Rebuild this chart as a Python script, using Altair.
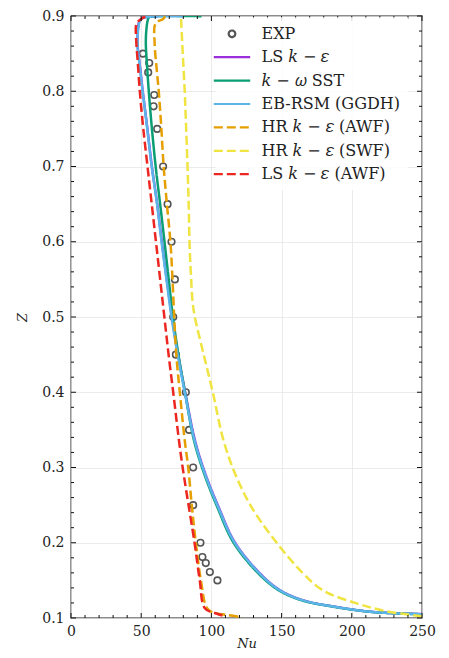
import altair as alt
import pandas as pd

W, H = 351, 602

# ---------------- data ----------------
exp_nu = [51.2, 55.7, 55.0, 59.3, 58.8, 61.4, 65.6, 68.8, 71.6, 74.0, 72.8,
          74.7, 81.8, 84.1, 87.0, 87.0, 92.2, 93.6, 96.0, 98.9, 104.3]
exp_z = [0.85, 0.8375, 0.825, 0.795, 0.78, 0.75, 0.70, 0.65, 0.60, 0.55, 0.50,
         0.45, 0.40, 0.35, 0.30, 0.25, 0.20, 0.181, 0.173, 0.161, 0.15]

ls_z = [0.8995, 0.899, 0.897, 0.893, 0.885, 0.863, 0.83, 0.80, 0.755, 0.70, 0.65, 0.60, 0.55,
        0.50, 0.45, 0.40, 0.336, 0.292, 0.2475, 0.20, 0.159, 0.137, 0.1235, 0.1146, 0.108, 0.1052]
ls_nu = [62, 55, 50.5, 48.7, 47.8, 47.4, 49.3, 51.1, 54.1, 57.6, 61.4, 64.7, 68.2,
         71.9, 76.3, 81.3, 88.3, 95.6, 105.1, 116.9, 134.7, 148.9, 165.5, 189.3, 215.3, 250]

sst_z = [0.8997, 0.8995, 0.898, 0.893, 0.88, 0.863, 0.83, 0.80, 0.755, 0.70, 0.65, 0.60, 0.55,
         0.50, 0.45, 0.40, 0.336, 0.292, 0.2475, 0.20, 0.159, 0.137, 0.1235, 0.1146, 0.108, 0.105]
sst_nu = [93, 58, 55.5, 54.5, 53.6, 53.3, 54.3, 55.4, 57.4, 60.3, 63.5, 66.6, 69.6,
          72.6, 76.5, 81.2, 87.6, 94.8, 104.2, 115.8, 133.6, 147.8, 164.4, 188.2, 214.3, 250]

rsm_z = [0.8995, 0.899, 0.897, 0.893, 0.885, 0.863, 0.83, 0.80, 0.755, 0.70, 0.65, 0.60, 0.55,
         0.50, 0.45, 0.40, 0.336, 0.292, 0.2475, 0.20, 0.159, 0.137, 0.1235, 0.1146, 0.108, 0.105]
rsm_nu = [80, 56, 51, 49, 48, 47.4, 49.2, 51, 54, 57.5, 61.3, 64.5, 68,
          71.6, 76, 81, 88, 95.3, 104.8, 116.6, 134.4, 148.6, 165.2, 189, 215, 250]

hrawf_z = [0.8995, 0.896, 0.89, 0.863, 0.83, 0.80, 0.755, 0.70, 0.65, 0.60, 0.55, 0.50,
           0.45, 0.40, 0.336, 0.30, 0.25, 0.20, 0.15, 0.114, 0.108, 0.104, 0.101]
hrawf_nu = [67, 65.6, 60.2, 59.6, 61, 62.5, 64.2, 66, 68.3, 70.8, 72.3, 73.5,
            75, 77.5, 81, 83.5, 86, 88.9, 92.5, 96.5, 100, 111, 122]

hrswf_z = [0.896, 0.85, 0.80, 0.761, 0.70, 0.65, 0.588, 0.55, 0.52, 0.50, 0.45,
           0.40, 0.336, 0.2895, 0.247, 0.20, 0.16, 0.137, 0.1195, 0.109, 0.1024]
hrswf_nu = [78.4, 79.6, 81, 81.8, 83, 83.8, 84.6, 85.6, 86.6, 88.2, 94.5,
            101, 108.6, 117.4, 128.7, 146.5, 165, 179.2, 203.4, 224.7, 250]

lsawf_z = [0.899, 0.897, 0.89, 0.87, 0.84, 0.80, 0.75, 0.70, 0.65, 0.60, 0.55, 0.50,
           0.45, 0.40, 0.32, 0.27, 0.20, 0.15, 0.113, 0.106, 0.102]
lsawf_nu = [53, 50.7, 46.7, 46.4, 47.5, 49, 51.5, 54.5, 57.5, 60.5, 63.5, 66.5,
            69.5, 72.8, 78, 82, 88, 91.7, 95.3, 103.6, 110.5]

series_names = ["EXP", "LS 𝑘 − 𝜀", "𝑘 − 𝜔 SST", "EB-RSM (GGDH)", "HR 𝑘 − 𝜀 (AWF)",
                "HR 𝑘 − 𝜀 (SWF)", "LS 𝑘 − 𝜀 (AWF)"]
series_colors = ["#555555", "#9b2fdc", "#0b9e74", "#5bb5e8", "#e69f00", "#f0e442", "#ec2620"]
series_dashes = [[1, 0], [1, 0], [1, 0], [1, 0], [9, 4], [9, 4], [9, 4]]
line_data = [(ls_nu, ls_z), (sst_nu, sst_z), (rsm_nu, rsm_z),
             (hrawf_nu, hrawf_z), (hrswf_nu, hrswf_z), (lsawf_nu, lsawf_z)]

x_major = [0, 50, 100, 150, 200, 250]
x_minor = [v for v in range(10, 250, 10) if v % 50 != 0]
y_major = [0.1, 0.2, 0.3, 0.4, 0.5, 0.6, 0.7, 0.8, 0.9]
y_minor = [round(0.1 + 0.02 * i, 2) for i in range(1, 40) if i % 5 != 0]

# symbol shapes (unit square paths, scaled by sqrt(size)/2)
CIRCLE = "M0.47,0A0.47,0.47 0 1,1 -0.47,0A0.47,0.47 0 1,1 0.47,0Z"
HLINE = "M-2.6,0L2.6,0"
series_shapes = [CIRCLE] + [HLINE] * 6

# ---------------- tables ----------------
rows = []
for name, (nus, zs) in zip(series_names[1:], line_data):
    for i, (n, z) in enumerate(zip(nus, zs)):
        rows.append({"series": name, "idx": i, "Nu": n, "Z": z})
lines_df = pd.DataFrame(rows)
exp_df = pd.DataFrame({"series": series_names[0], "Nu": exp_nu, "Z": exp_z})

FONT = "DejaVu Serif"
x_scale = alt.Scale(domain=[0, 250], nice=False, zero=False)
y_scale = alt.Scale(domain=[0.1, 0.9], nice=False, zero=False)

x_axis = alt.Axis(values=x_major, grid=True, ticks=False, domain=False, labelPadding=6,
                  title="Nu", titleFontStyle="italic", titleFontWeight="normal",
                  titleFontSize=13, titleY=29, titleBaseline="alphabetic",
                  labelFlush=False)
y_axis = alt.Axis(values=y_major, format=".1f", grid=True, ticks=False, domain=False,
                  labelPadding=7, title="Z", titleFontStyle="italic",
                  titleFontWeight="normal", titleFontSize=13, titlePadding=12,
                  labelFlush=False)

legend = alt.Legend(title=None, orient="none", legendX=144.5, legendY=1.3,
                    symbolSize=196, symbolStrokeWidth=2.2, symbolFillColor="transparent",
                    labelOffset=21, rowPadding=6.4, padding=8)

color_enc = alt.Color("series:N",
                      scale=alt.Scale(domain=series_names, range=series_colors),
                      legend=legend)


def X(field):
    return alt.X(field, scale=x_scale, axis=x_axis)


def Y(field):
    return alt.Y(field, scale=y_scale, axis=y_axis)


points = alt.Chart(exp_df).mark_point(filled=False, strokeWidth=1.6, size=196,
                                      opacity=1).encode(
    x=X("Nu:Q"),
    y=Y("Z:Q"),
    color=color_enc,
    shape=alt.Shape("series:N",
                    scale=alt.Scale(domain=series_names, range=series_shapes),
                    legend=legend),
)

lines = alt.Chart(lines_df).mark_line(strokeWidth=2.5, clip=True,
                                      interpolate="catmull-rom").encode(
    x=X("Nu:Q"),
    y=Y("Z:Q"),
    color=color_enc,
    strokeDash=alt.StrokeDash("series:N",
                              scale=alt.Scale(domain=series_names, range=series_dashes),
                              legend=legend),
    detail="series:N",
    order=alt.Order("idx:Q"),
)


def xticks(vals, length, top):
    df = pd.DataFrame({"v": vals})
    base = alt.Chart(df).mark_rule(color="#111111", strokeWidth=1)
    if top:
        return base.encode(x=X("v:Q"), y=alt.value(0), y2=alt.value(length))
    return base.encode(x=X("v:Q"), y=alt.value(H), y2=alt.value(H - length))


def yticks(vals, length, right):
    df = pd.DataFrame({"v": vals})
    base = alt.Chart(df).mark_rule(color="#111111", strokeWidth=1)
    if right:
        return base.encode(y=Y("v:Q"), x=alt.value(W), x2=alt.value(W - length))
    return base.encode(y=Y("v:Q"), x=alt.value(0), x2=alt.value(length))


tick_layers = [xticks(x_major, 5, False), xticks(x_minor, 3, False),
               xticks(x_major, 5, True), xticks(x_minor, 3, True),
               yticks(y_major, 5, False), yticks(y_minor, 3, False),
               yticks(y_major, 5, True), yticks(y_minor, 3, True)]

chart = alt.layer(points, lines, *tick_layers).properties(
    width=W, height=H,
    autosize=alt.AutoSizeParams(type="none"),
    padding={"left": 63, "top": 8, "right": 16, "bottom": 32},
).configure(font=FONT).configure_view(
    stroke="#1a1a1a", strokeWidth=1.3
).configure_axis(
    labelFont=FONT, titleFont=FONT, labelFontSize=14, labelColor="#222222",
    titleColor="#222222", gridColor="#e6e6e6", gridWidth=0.8
).configure_legend(
    labelFont=FONT, labelFontSize=16, labelColor="#222222",
    fillColor="rgba(255,255,255,0.85)"
)

chart.save("out.html", embed_options={"renderer": "svg", "actions": False})
